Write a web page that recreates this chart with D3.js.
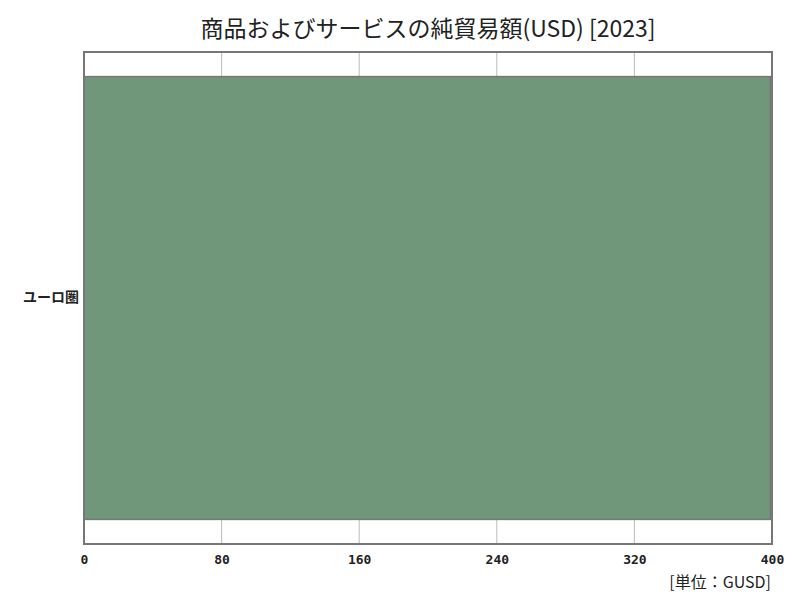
<!DOCTYPE html>
<html><head><meta charset="utf-8">
<script src="https://cdn.jsdelivr.net/npm/d3@7"></script>
<style>body{margin:0;background:#fff;}</style>
</head><body>
<svg id="c" width="800" height="600"></svg>
<script>
const categories = ["ユーロ圏"];
const values = [399];
const xTicks = [0, 80, 160, 240, 320, 400];
const title = "商品およびサービスの純貿易額(USD) [2023]";
const unitLabel = "[単位：GUSD]";

const svg = d3.select("#c");
const m = {l:84, r:772, t:52, b:544};
const font = "'Noto Sans CJK JP', 'Noto Sans', sans-serif";

const x = d3.scaleLinear().domain([0, 400]).range([m.l, m.r]);
const y = d3.scaleBand().domain(categories).range([m.t, m.b]).paddingInner(0.1).paddingOuter(0.05);

svg.append("text").attr("x", 428).attr("y", 37).attr("text-anchor", "middle")
  .attr("font-family", font).attr("font-size", 23).attr("fill", "#222").text(title);

// grid
svg.append("g").selectAll("line").data(xTicks.slice(1, -1)).join("line")
  .attr("x1", d => x(d)).attr("x2", d => x(d)).attr("y1", m.t).attr("y2", m.b)
  .attr("stroke", "#bbb").attr("stroke-width", 1);

// bars
svg.append("g").selectAll("rect").data(categories).join("rect")
  .attr("x", x(0)).attr("y", d => y(d))
  .attr("width", (d, i) => x(values[i]) - x(0)).attr("height", y.bandwidth())
  .attr("fill", "#71977a").attr("stroke", "#777").attr("stroke-width", 1.5);

// frame
svg.append("rect").attr("x", m.l).attr("y", m.t).attr("width", m.r - m.l).attr("height", m.b - m.t)
  .attr("fill", "none").attr("stroke", "#777").attr("stroke-width", 2);

// x axis
const xa = svg.append("g").attr("transform", `translate(0,${m.b})`)
  .call(d3.axisBottom(x).tickValues(xTicks).tickSize(0).tickPadding(11).tickFormat(d3.format("d")));
xa.select(".domain").remove();
xa.selectAll("text").attr("font-family", "'DejaVu Sans Mono', monospace").attr("font-size", 13)
  .attr("font-weight", "bold").attr("fill", "#222");

// y axis
const ya = svg.append("g").attr("transform", `translate(${m.l},0)`)
  .call(d3.axisLeft(y).tickSize(0).tickPadding(5));
ya.select(".domain").remove();
ya.selectAll("text").attr("font-family", font).attr("font-size", 14).attr("font-weight", "bold").attr("fill", "#222");

svg.append("text").attr("x", 771).attr("y", 588).attr("text-anchor", "end")
  .attr("font-family", font).attr("font-size", 16).attr("fill", "#222").text(unitLabel);
</script>
</body></html>
